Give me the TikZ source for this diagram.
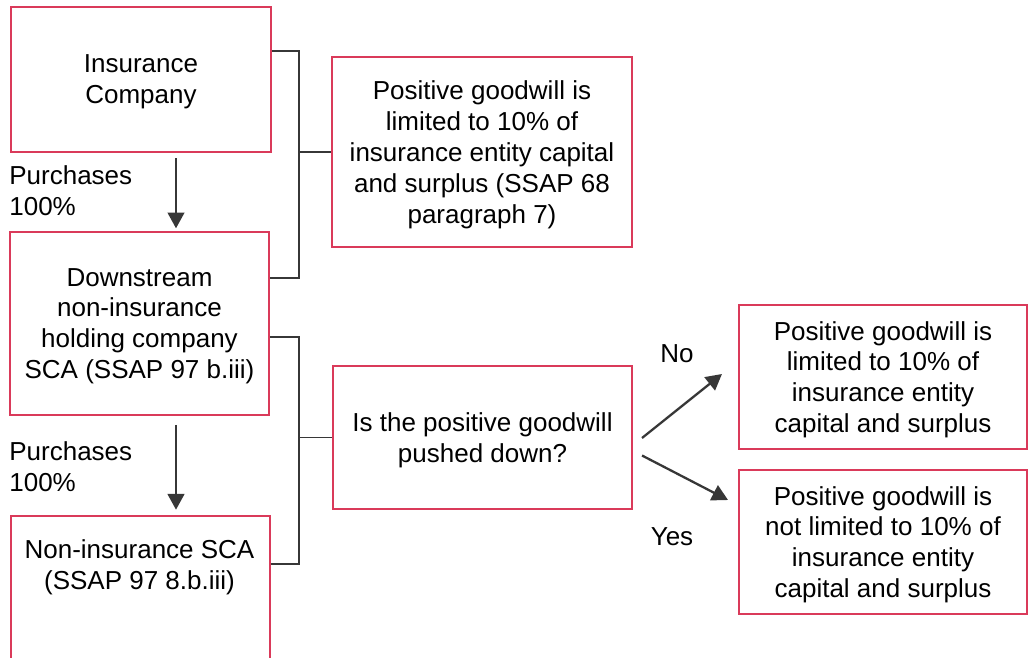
\documentclass[tikz,border=0pt]{standalone}
\usepackage{fontspec}
\setmainfont{Liberation Sans}
\usetikzlibrary{arrows.meta, positioning, calc}

\definecolor{boxred}{RGB}{218,58,90}
\definecolor{linegray}{RGB}{55,55,55}

\begin{document}
\begin{tikzpicture}[
    x=0.02cm, y=-0.02cm,
    font=\fontsize{14.8}{17.6}\selectfont,
    % Estilos
    box/.style={rectangle, draw=boxred, line width=1.2pt, fill=white, align=center, inner sep=0pt, text depth=-3pt},
    bracket/.style={draw=linegray, line width=1pt},
    arr/.style={-{Triangle[width=9.5pt,length=9pt]}, draw=linegray, line width=1.3pt},
    plain/.style={align=left, inner sep=0pt}
]
\useasboundingbox (0,0) rectangle (1028,658);
\clip (0,0) rectangle (1028,658);

% -------------------------
% Columna izquierda
% -------------------------
\node[box, minimum width=5.2cm, minimum height=2.9cm] (ins) at (141,79.5) {Insurance\\Company};

\node[box, minimum width=5.18cm, minimum height=3.66cm] (down) at (139.5,323.5) {
    Downstream\\non-insurance\\holding company\\SCA (SSAP 97 b.iii)
};

\node[box, anchor=north west, minimum width=5.18cm, minimum height=4cm] (nonins) at (10,515) {};
\node[plain, align=center] (noninstxt) at (139.5,567) {Non-insurance SCA\\(SSAP 97 8.b.iii)};

\node[plain, anchor=west] (buy1) at (9,191) {Purchases\\100\%};
\node[plain, anchor=west] (buy2) at (9,466.5) {Purchases\\100\%};

\coordinate (ax) at (176,0);
\draw[arr, shorten <=3pt, shorten >=1.5pt] (ins.south -| ax) -- (down.north -| ax);
\draw[arr, shorten <=5pt, shorten >=3pt] (down.south -| ax) -- (nonins.north -| ax);

% -------------------------
% Centro
% -------------------------
\node[box, minimum width=6cm, minimum height=3.8cm] (limit) at (482,152) {
    Positive goodwill is\\limited to 10\% of\\insurance entity capital\\and surplus (SSAP 68\\paragraph 7)
};

\node[box, minimum width=5.98cm, minimum height=2.86cm] (push) at (482.5,437.5) {
    Is the positive goodwill\\pushed down?
};

% Corchetes
\coordinate (brA) at (299,51);
\coordinate (brB) at (299,278);
\draw[bracket] (brA -| ins.east) -- (brA) -- (brB) -- (brB -| down.east);
\draw[bracket] (brA |- limit.west) -- (limit.west);

\coordinate (brC) at (299,337);
\coordinate (brD) at (299,564);
\draw[bracket] (brC -| down.east) -- (brC) -- (brD) -- (brD -| nonins.east);
\draw[bracket] (brC |- push.west) -- (push.west);

% -------------------------
% Resultados (Derecha)
% -------------------------
\node[box, minimum width=5.76cm, minimum height=2.88cm] (nopush) at (883,377) {
    Positive goodwill is\\limited to 10\% of\\insurance entity\\capital and surplus
};

\node[box, minimum width=5.76cm, minimum height=2.88cm] (yespush) at (883,542) {
    Positive goodwill is\\not limited to 10\% of\\insurance entity\\capital and surplus
};

\draw[arr] ($(push.east)+(9,0.5)$) -- ($(nopush.west)+(-16,-3)$);
\draw[arr] ($(push.east)+(9,18)$) -- ($(yespush.west)+(-10,-42)$);

\node (nolbl) at (677,354) {No};
\node (yeslbl) at (672,537) {Yes};

\end{tikzpicture}
\end{document}
